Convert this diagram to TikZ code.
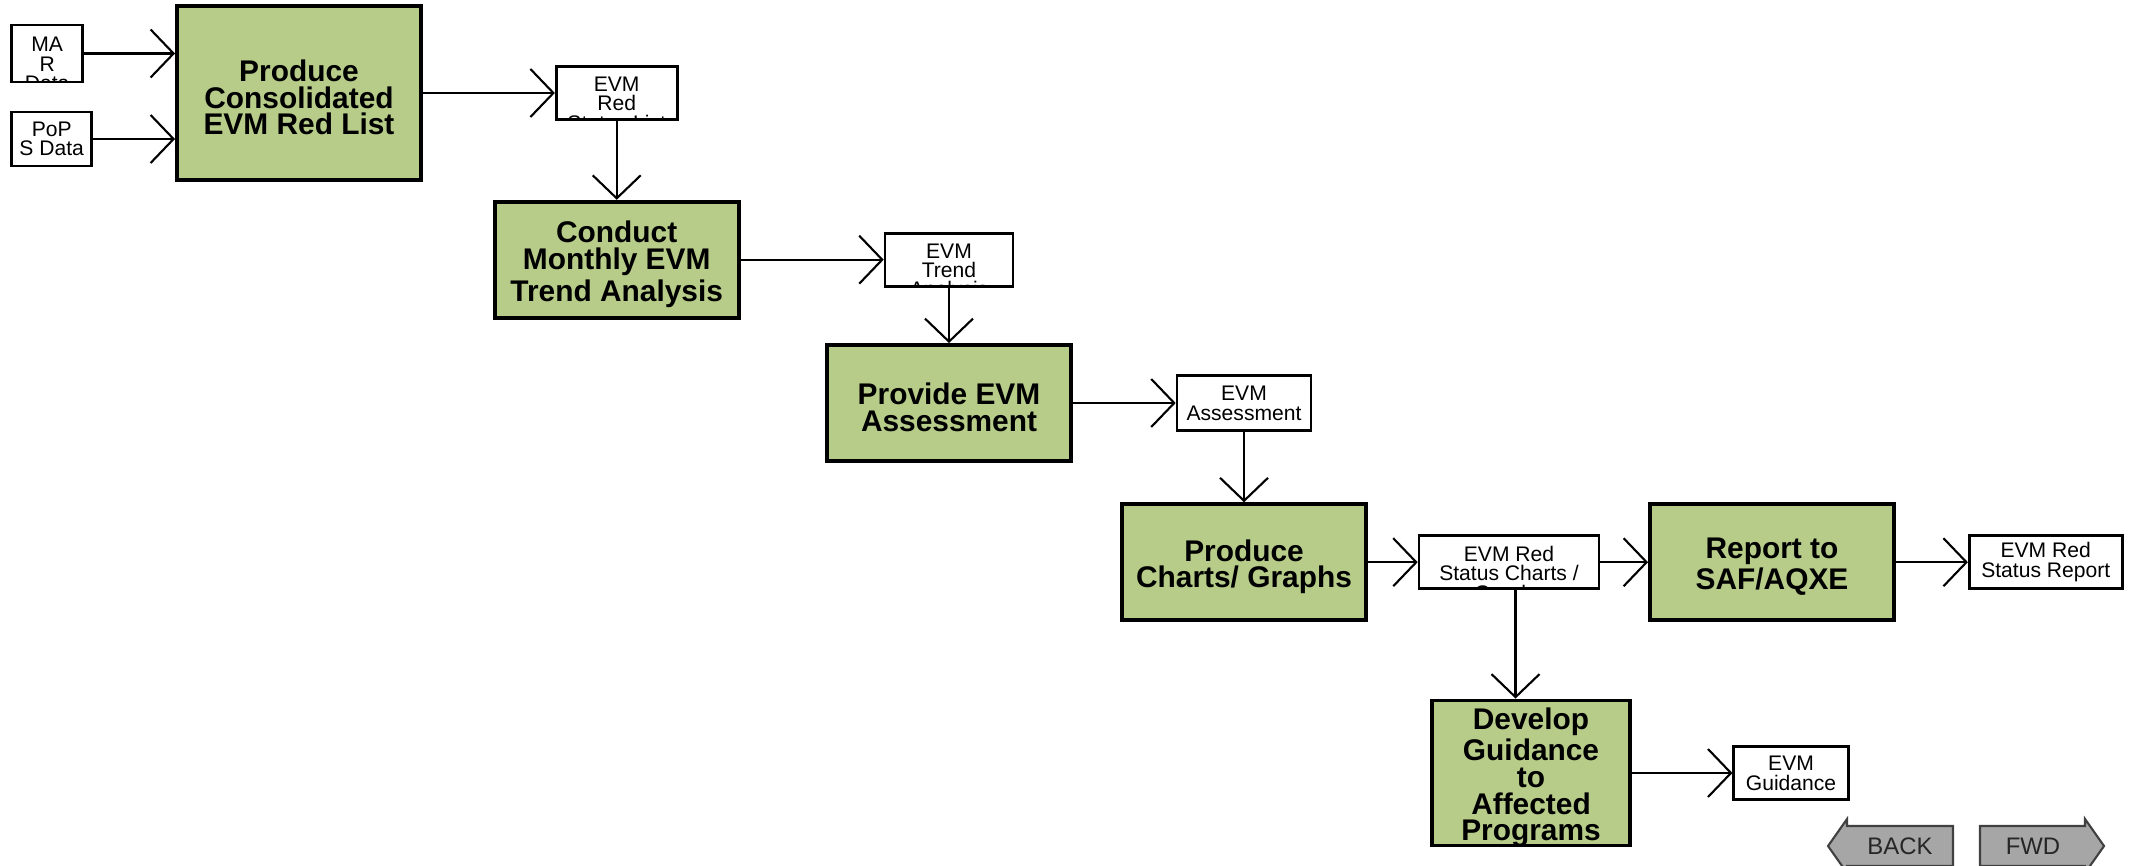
\documentclass[tikz,border=0pt]{standalone}
\usepackage{fontspec}
\setmainfont{Liberation Sans}
\usetikzlibrary{arrows.meta,calc}
\definecolor{taskgreen}{RGB}{183,204,136}
\definecolor{navgray}{RGB}{166,166,166}

\begin{document}
\begin{tikzpicture}[
  task/.style={rectangle, draw=black, line width=1.1pt, fill=taskgreen, path picture={\node[align=center, inner sep=0pt, font=\fontsize{8.5}{7.6}\selectfont\bfseries] at ([yshift=-1.3pt]path picture bounding box.center) {#1};}},
  doc/.style={rectangle, draw=black, line width=0.75pt, fill=white, align=center, inner sep=1pt, font=\fontsize{6}{5.6}\selectfont},
  cut doc/.style={doc, path picture={\node[anchor=north, align=center, inner sep=0pt, font=\fontsize{6}{5.5}\selectfont] at ([yshift=-2.6pt]path picture bounding box.north) {#1};}},
  flow/.style={line width=0.6pt, -{Straight Barb[length=2.3mm, width=4.8mm]}},
  nav/.style={draw=black!75, line width=0.6pt, fill=navgray},
  navtext/.style={font=\fontsize{6.8}{7}\selectfont, text=black!85}
]
  \useasboundingbox (0,0) rectangle (21.37,8.65);
  % inputs
  \node[cut doc={MA\\R\\Data}, minimum width=0.71cm, minimum height=0.57cm] (mar) at (0.472,8.115) {};
  \node[doc, minimum width=0.80cm, minimum height=0.54cm] (pops) at (0.517,7.26) {PoP\\S Data};
  % process chain
  \node[task={Produce\\Consolidated\\EVM Red List}, minimum width=2.44cm, minimum height=1.74cm] (consol) at (2.99,7.72) {};
  \node[cut doc={EVM\\Red\\Status List}, minimum width=1.21cm, minimum height=0.53cm] (redlist) at (6.167,7.72) {};
  \node[task={Conduct\\Monthly EVM\\Trend Analysis}, minimum width=2.44cm, minimum height=1.16cm] (trend) at (6.167,6.053) {};
  \node[cut doc={EVM\\Trend\\Analysis}, minimum width=1.28cm, minimum height=0.53cm] (trendout) at (9.49,6.053) {};
  \node[task={Provide EVM\\Assessment}, minimum width=2.44cm, minimum height=1.16cm] (assess) at (9.49,4.62) {};
  \node[doc, minimum width=1.34cm, minimum height=0.545cm] (assessout) at (12.44,4.62) {EVM\\Assessment};
  \node[task={Produce\\Charts/ Graphs}, minimum width=2.44cm, minimum height=1.16cm] (charts) at (12.44,3.028) {};
  \node[cut doc={EVM Red\\Status Charts /\\Graphs}, minimum width=1.80cm, minimum height=0.53cm] (chartsout) at (15.09,3.028) {};
  \node[task={Report to\\SAF/AQXE}, minimum width=2.44cm, minimum height=1.16cm] (report) at (17.72,3.028) {};
  \node[doc, minimum width=1.53cm, minimum height=0.53cm] (reportout) at (20.457,3.028) {EVM Red\\Status Report};
  \node[task={Develop\\Guidance\\to\\Affected\\Programs}, minimum width=1.98cm, minimum height=1.45cm] (guide) at (15.31,0.92) {};
  \node[doc, minimum width=1.145cm, minimum height=0.53cm] (guideout) at (17.91,0.92) {EVM\\Guidance};
  % connectors
  \draw[flow] (mar.east) -- (mar.east -| consol.west);
  \draw[flow] (pops.east) -- (pops.east -| consol.west);
  \draw[flow] (consol) -- (redlist);
  \draw[flow] (redlist) -- (trend);
  \draw[flow] (trend) -- (trendout);
  \draw[flow] (trendout) -- (assess);
  \draw[flow] (assess) -- (assessout);
  \draw[flow] (assessout) -- (charts);
  \draw[flow] (charts) -- (chartsout);
  \draw[flow] (chartsout) -- (report);
  \draw[flow] (report) -- (reportout);
  \draw[flow] ([xshift=0.065cm]chartsout.south) -- ([xshift=0.065cm]chartsout.south |- guide.north);
  \draw[flow] (guide) -- (guideout);
  % navigation buttons
  \draw[nav] (18.28,0.19) -- (18.47,0.46) -- (18.47,0.39) -- (19.53,0.39) -- (19.53,-0.01) -- (18.47,-0.01) -- (18.47,-0.08) -- cycle;
  \node[navtext] (back) at (19.0,0.19) {BACK};
  \draw[nav] (21.04,0.19) -- (20.85,0.46) -- (20.85,0.39) -- (19.80,0.39) -- (19.80,-0.01) -- (20.85,-0.01) -- (20.85,-0.08) -- cycle;
  \node[navtext] (fwd) at (20.33,0.19) {FWD};
\end{tikzpicture}
\end{document}
